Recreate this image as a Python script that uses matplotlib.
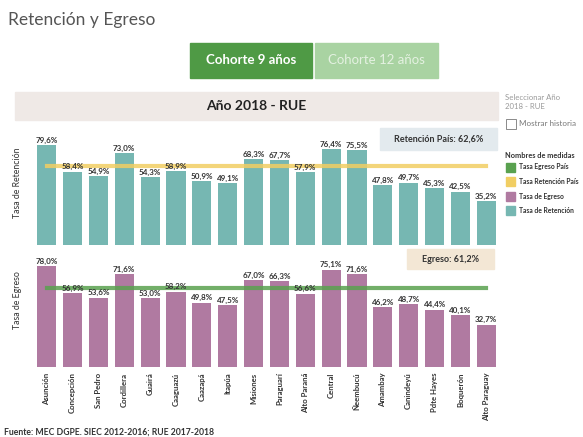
import matplotlib.pyplot as plt
from matplotlib.patches import Rectangle

plt.rcParams.update({
    'font.family': ['Lato', 'DejaVu Sans'],
    'font.size': 6,
})

# Datos por departamento
departamentos = ['Asunción', 'Concepción', 'San Pedro', 'Cordillera', 'Guairá',
                 'Caaguazú', 'Caazapá', 'Itapúa', 'Misiones', 'Paraguarí',
                 'Alto Paraná', 'Central', 'Ñeembucú', 'Amambay', 'Canindeyú',
                 'Pdte Hayes', 'Boquerón', 'Alto Paraguay']
tasa_retencion = [79.6, 58.4, 54.9, 73.0, 54.3, 58.9, 50.9, 49.1, 68.3, 67.7,
                  57.9, 76.4, 75.5, 47.8, 49.7, 45.3, 42.5, 35.2]
tasa_egreso = [78.0, 56.9, 53.6, 71.6, 53.0, 58.2, 49.8, 47.5, 67.0, 66.3,
               56.6, 75.1, 71.6, 46.2, 48.7, 44.4, 40.1, 32.7]
retencion_pais = 62.6
egreso_pais = 61.2

C_RET = '#76b7b2'
C_EGR = '#b07aa1'
C_RET_PAIS = '#f1ce63'
C_EGR_PAIS = '#59a14f'

W, H = 583, 437
fig = plt.figure(figsize=(W / 100, H / 100), dpi=100)


def px_axes(x0, y0, x1, y1):
    # rectángulo en píxeles (origen arriba a la izquierda)
    return fig.add_axes([x0 / W, 1 - y1 / H, (x1 - x0) / W, (y1 - y0) / H])


def fmt(v):
    return f'{v:.1f}%'.replace('.', ',')


# Fondo de elementos de cabecera
bg = fig.add_axes([0, 0, 1, 1])
bg.set_xlim(0, W)
bg.set_ylim(H, 0)
bg.axis('off')

bg.text(8, 20, 'Retención y Egreso', fontsize=12.5, color='#555555', va='center')
bg.add_patch(Rectangle((190, 43), 122, 35, color='#4f9a45'))
bg.text(251, 60.5, 'Cohorte 9 años', color='white', fontsize=9.5, fontweight='bold',
        ha='center', va='center')
bg.add_patch(Rectangle((315, 43), 123, 35, color='#a9d3a2'))
bg.text(376.5, 60.5, 'Cohorte 12 años', color='#e4f1e1', fontsize=9.5,
        ha='center', va='center')
bg.add_patch(Rectangle((15, 92), 483, 28, color='#efe9e6'))
bg.text(256, 106, 'Año 2018 - RUE', fontsize=10, fontweight='bold',
        ha='center', va='center', color='#222222')
bg.text(505, 102, 'Seleccionar Año\n2018 - RUE', fontsize=5.6, color='#999999',
        va='center', linespacing=1.3)
bg.add_patch(Rectangle((506, 119), 10, 10, fill=False, ec='#777777', lw=0.6))
bg.text(519, 124, 'Mostrar historia', fontsize=5.8, color='#777777', va='center')

# Leyenda
bg.text(505, 156, 'Nombres de medidas', fontsize=5.3, fontweight='bold',
        color='#333333', va='center')
ley = [('Tasa Egreso País', C_EGR_PAIS), ('Tasa Retención País', C_RET_PAIS),
       ('Tasa de Egreso', C_EGR), ('Tasa de Retención', C_RET)]
for i, (nombre, col) in enumerate(ley):
    y = 167 + i * 14.5
    bg.add_patch(Rectangle((506, y - 4.5), 9, 9, color=col))
    bg.text(519, y, nombre, fontsize=4.9, fontweight='bold', color='#333333',
            va='center')

# Cajas de promedio país
bg.add_patch(Rectangle((380, 128), 117, 22, color='#e3eaee'))
bg.text(438.5, 139, f'Retención País: {fmt(retencion_pais)}', fontsize=6.5,
        fontweight='bold', ha='center', va='center', color='#333333')
bg.add_patch(Rectangle((407, 249), 87, 20, color='#f3e7d5'))
bg.text(450.5, 259, f'Egreso: {fmt(egreso_pais)}', fontsize=6.5,
        fontweight='bold', ha='center', va='center', color='#333333')

bg.text(4, 432, 'Fuente: MEC DGPE. SIEC 2012-2016; RUE 2017-2018', fontsize=6.2,
        fontweight='bold', color='#333333', va='center')

bg.text(18, 183, 'Tasa de Retención', rotation=90, fontsize=6.3, color='#333333',
        ha='center', va='center')
bg.text(18, 300, 'Tasa de Egreso', rotation=90, fontsize=6.3, color='#333333',
        ha='center', va='center')

pos = list(range(len(departamentos)))


def panel(ax, valores, color, pais, col_pais, ymax):
    ax.bar(pos, valores, width=0.74, color=color, zorder=2)
    ax.plot([pos[0], pos[-1]], [pais, pais], color=col_pais, lw=3, alpha=0.85,
            zorder=3)
    for x, v in zip(pos, valores):
        ax.text(x, v + 1.0, fmt(v), ha='center', va='bottom', fontsize=5.8,
                fontweight='bold', color='#333333', zorder=4)
    ax.set_xlim(-0.53, len(pos) - 0.47)
    ax.set_ylim(0, ymax)
    for s in ax.spines.values():
        s.set_visible(False)
    ax.set_yticks([])
    ax.patch.set_alpha(0)


ax1 = px_axes(33, 135, 500, 245)
panel(ax1, tasa_retencion, C_RET, retencion_pais, C_RET_PAIS, 87.6)
ax1.set_xticks([])

ax2 = px_axes(33, 255, 500, 367)
panel(ax2, tasa_egreso, C_EGR, egreso_pais, C_EGR_PAIS, 86.5)
ax2.set_xticks(pos)
ax2.set_xticklabels(departamentos, rotation=90, fontsize=5.6, fontweight='bold',
                    color='#333333')
ax2.tick_params(axis='x', length=0, pad=4)

fig.savefig('out.png', dpi=100)
